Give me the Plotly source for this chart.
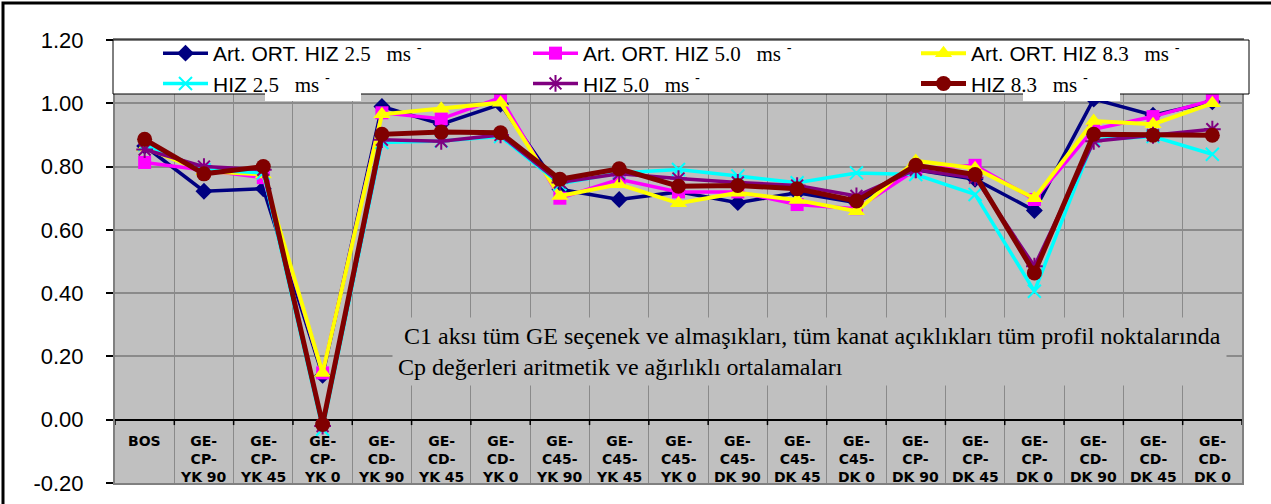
import plotly.graph_objects as go

categories = ["BOS", "GE-<br>CP-<br>YK 90", "GE-<br>CP-<br>YK 45", "GE-<br>CP-<br>YK 0",
              "GE-<br>CD-<br>YK 90", "GE-<br>CD-<br>YK 45", "GE-<br>CD-<br>YK 0",
              "GE-<br>C45-<br>YK 90", "GE-<br>C45-<br>YK 45", "GE-<br>C45-<br>YK 0",
              "GE-<br>C45-<br>DK 90", "GE-<br>C45-<br>DK 45", "GE-<br>C45-<br>DK 0",
              "GE-<br>CP-<br>DK 90", "GE-<br>CP-<br>DK 45", "GE-<br>CP-<br>DK 0",
              "GE-<br>CD-<br>DK 90", "GE-<br>CD-<br>DK 45", "GE-<br>CD-<br>DK 0"]

art_25 = [0.865, 0.722, 0.730, 0.140, 0.990, 0.934, 0.997, 0.728, 0.696, 0.720, 0.686, 0.717, 0.686, 0.790, 0.760, 0.661, 1.013, 0.962, 1.005]
art_50 = [0.813, 0.790, 0.765, 0.148, 0.970, 0.951, 1.018, 0.700, 0.760, 0.720, 0.720, 0.680, 0.667, 0.790, 0.804, 0.696, 0.918, 0.958, 1.010]
art_83 = [0.860, 0.785, 0.775, 0.148, 0.965, 0.983, 1.002, 0.707, 0.744, 0.684, 0.717, 0.694, 0.659, 0.818, 0.795, 0.700, 0.944, 0.934, 1.000]
hiz_25 = [0.870, 0.790, 0.780, -0.030, 0.876, 0.881, 0.895, 0.745, 0.780, 0.791, 0.770, 0.749, 0.780, 0.775, 0.712, 0.406, 0.885, 0.895, 0.839]
hiz_50 = [0.854, 0.800, 0.790, -0.020, 0.885, 0.880, 0.900, 0.750, 0.777, 0.762, 0.750, 0.740, 0.707, 0.790, 0.765, 0.485, 0.880, 0.899, 0.918]
hiz_83 = [0.886, 0.777, 0.800, -0.015, 0.902, 0.909, 0.907, 0.760, 0.793, 0.738, 0.740, 0.730, 0.691, 0.804, 0.775, 0.464, 0.902, 0.899, 0.899]

y_ticks = [-0.2, 0.0, 0.2, 0.4, 0.6, 0.8, 1.0, 1.2]

W, H = 1271, 504
L, R, T, B = 115, 29, 40, 21
PW, PH = W - L - R, H - T - B


def px(xp):
    return (xp - L) / PW


def py(yp):
    return (H - B - yp) / PH


def nm(prefix, speed):
    return (prefix + "&nbsp;<span style='font-family:Liberation Serif;font-size:21px'>" + speed
            + "&nbsp;&nbsp; ms</span> <sup>-</sup>")


x = list(range(len(categories)))
series = [
    (art_25, nm("Art. ORT. HIZ", "2.5"), "#000080", "diamond", 13, 3.5, "legend"),
    (art_50, nm("Art. ORT. HIZ", "5.0"), "#FF00FF", "square", 13, 3.5, "legend2"),
    (art_83, nm("Art. ORT. HIZ", "8.3"), "#FFFF00", "triangle-up", 15, 4, "legend3"),
    (hiz_25, nm("HIZ", "2.5"), "#00FFFF", "x-thin-open", 13, 3.5, "legend"),
    (hiz_50, nm("HIZ", "5.0"), "#800080", "asterisk-open", 14, 3.5, "legend2"),
    (hiz_83, nm("HIZ", "8.3"), "#800000", "circle", 15, 5, "legend3"),
]

fig = go.Figure()
for vals, name, col, sym, ms, lw, lg in series:
    mk = dict(symbol=sym, size=ms, color=col)
    if sym.endswith("open"):
        mk["line"] = dict(color=col, width=2)
    fig.add_trace(go.Scatter(x=x, y=vals, name=name, mode="lines+markers", legend=lg,
                             line=dict(color=col, width=lw), marker=mk))

shapes = []
# outer frame
shapes.append(dict(type="rect", xref="paper", yref="paper", x0=px(3), x1=px(1290),
                   y0=py(520), y1=py(3), line=dict(color="black", width=3), layer="below"))
# ticks on the zero line at category boundaries
for i in range(len(categories) + 1):
    shapes.append(dict(type="line", xref="x", yref="y", x0=i - 0.5, x1=i - 0.5,
                       y0=0, y1=-0.017, line=dict(color="black", width=1.5)))
# legend box
shapes.append(dict(type="rect", xref="paper", yref="paper", x0=px(113), x1=px(1249),
                   y0=py(94), y1=py(40), fillcolor="white",
                   line=dict(color="black", width=1), layer="above"))
# small white text boxes hanging under the legend
for x0p, x1p, y1p in [(265, 361, 101), (1023, 1120, 101)]:
    shapes.append(dict(type="rect", xref="paper", yref="paper", x0=px(x0p), x1=px(x1p),
                       y0=py(y1p), y1=py(93), fillcolor="white", line=dict(width=0),
                       layer="above"))

annotations = []
for i, c in enumerate(categories):
    annotations.append(dict(x=i, y=-0.035, xref="x", yref="y", text="<b>" + c + "</b>",
                            showarrow=False, yanchor="top", xanchor="center",
                            font=dict(family="DejaVu Sans", size=14, color="black")))

annotations.append(dict(
    x=px(392), y=py(351), xref="paper", yref="paper", xanchor="left", yanchor="middle",
    align="left", showarrow=False, bgcolor="#C0C0C0", borderpad=5,
    text="&nbsp;C1 aksı tüm GE seçenek ve almaşıkları, tüm kanat açıklıkları tüm profil noktalarında"
         "<br>Cp değerleri aritmetik ve ağırlıklı ortalamaları",
    font=dict(family="Liberation Serif", size=24, color="black")))

leg_common = dict(orientation="v", xanchor="left", yanchor="top", xref="container", yref="container",
                  bgcolor="rgba(0,0,0,0)", itemwidth=45, tracegroupgap=0,
                  font=dict(family="Liberation Sans", size=21, color="black"))

fig.update_layout(
    width=W, height=H,
    margin=dict(l=L, r=R, t=T, b=B, autoexpand=False),
    paper_bgcolor="white", plot_bgcolor="#C0C0C0",
    showlegend=True,
    legend=dict(x=158 / W, y=1 - 33 / H, **leg_common),
    legend2=dict(x=528 / W, y=1 - 33 / H, **leg_common),
    legend3=dict(x=916 / W, y=1 - 33 / H, **leg_common),
    shapes=shapes,
    annotations=annotations,
    xaxis=dict(range=[-0.5, len(categories) - 0.5], tickvals=[i + 0.5 for i in range(len(categories) - 1)],
               showticklabels=False, ticks="", showgrid=True, gridcolor="#8a8a8a", gridwidth=1,
               zeroline=False, showline=True, linecolor="#808080", linewidth=2, mirror=True,
               automargin=False),
    yaxis=dict(range=[-0.2, 1.2], tickvals=y_ticks, ticktext=["%.2f" % v for v in y_ticks],
               ticks="outside", ticklen=7, tickcolor="black", tickwidth=1.5,
               ticklabelstandoff=18, automargin=False,
               tickfont=dict(family="Liberation Sans", size=22, color="black"),
               showgrid=True, gridcolor="#8a8a8a", gridwidth=1.5,
               zeroline=True, zerolinecolor="black", zerolinewidth=1.5,
               showline=True, linecolor="#808080", linewidth=2, mirror=True),
)

fig.write_html("out.html", config={"displayModeBar": False},
               post_script="document.body.style.margin='0';document.body.style.overflow='hidden';")
